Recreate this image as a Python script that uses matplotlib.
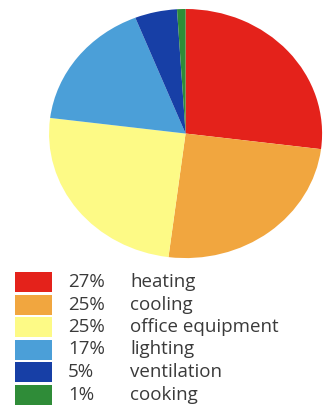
import matplotlib
matplotlib.use("Agg")
import matplotlib.pyplot as plt
from matplotlib.patches import Rectangle

labels = ["heating", "cooling", "office equipment", "lighting", "ventilation", "cooking"]
shares = [27, 25, 25, 17, 5, 1]
colors = ["#e4221b", "#f1a63f", "#fdfa86", "#4b9fd8", "#173fa6", "#2f8c38"]

fig = plt.figure(figsize=(3.27, 4.09), dpi=100)

# pie, slightly wider than tall like the original print
ax = fig.add_axes([0.150, 0.369, 0.835, 0.609])
ax.pie(shares, colors=colors, startangle=90, counterclock=False,
       wedgeprops=dict(linewidth=0))
ax.set_aspect("auto")
ax.set_xlim(-1, 1)
ax.set_ylim(-1, 1)
ax.axis("off")

# legend block
top = 271
pitch = 22.5
for i, (lab, s, c) in enumerate(zip(labels, shares, colors)):
    y0 = top + i * pitch
    fig.patches.append(Rectangle((15 / 327, 1 - (y0 + 21) / 409), 37 / 327, 20 / 409,
                                 transform=fig.transFigure, color=c, lw=0))
    yc = 1 - (y0 + 11) / 409
    fig.text(68 / 327, yc, f"{s}%", fontsize=13.5, family="Open Sans",
             color="#3a3a3a", va="center")
    fig.text(130 / 327, yc, lab, fontsize=13.5, family="Open Sans",
             color="#3a3a3a", va="center")

fig.savefig("out.png", dpi=100)
